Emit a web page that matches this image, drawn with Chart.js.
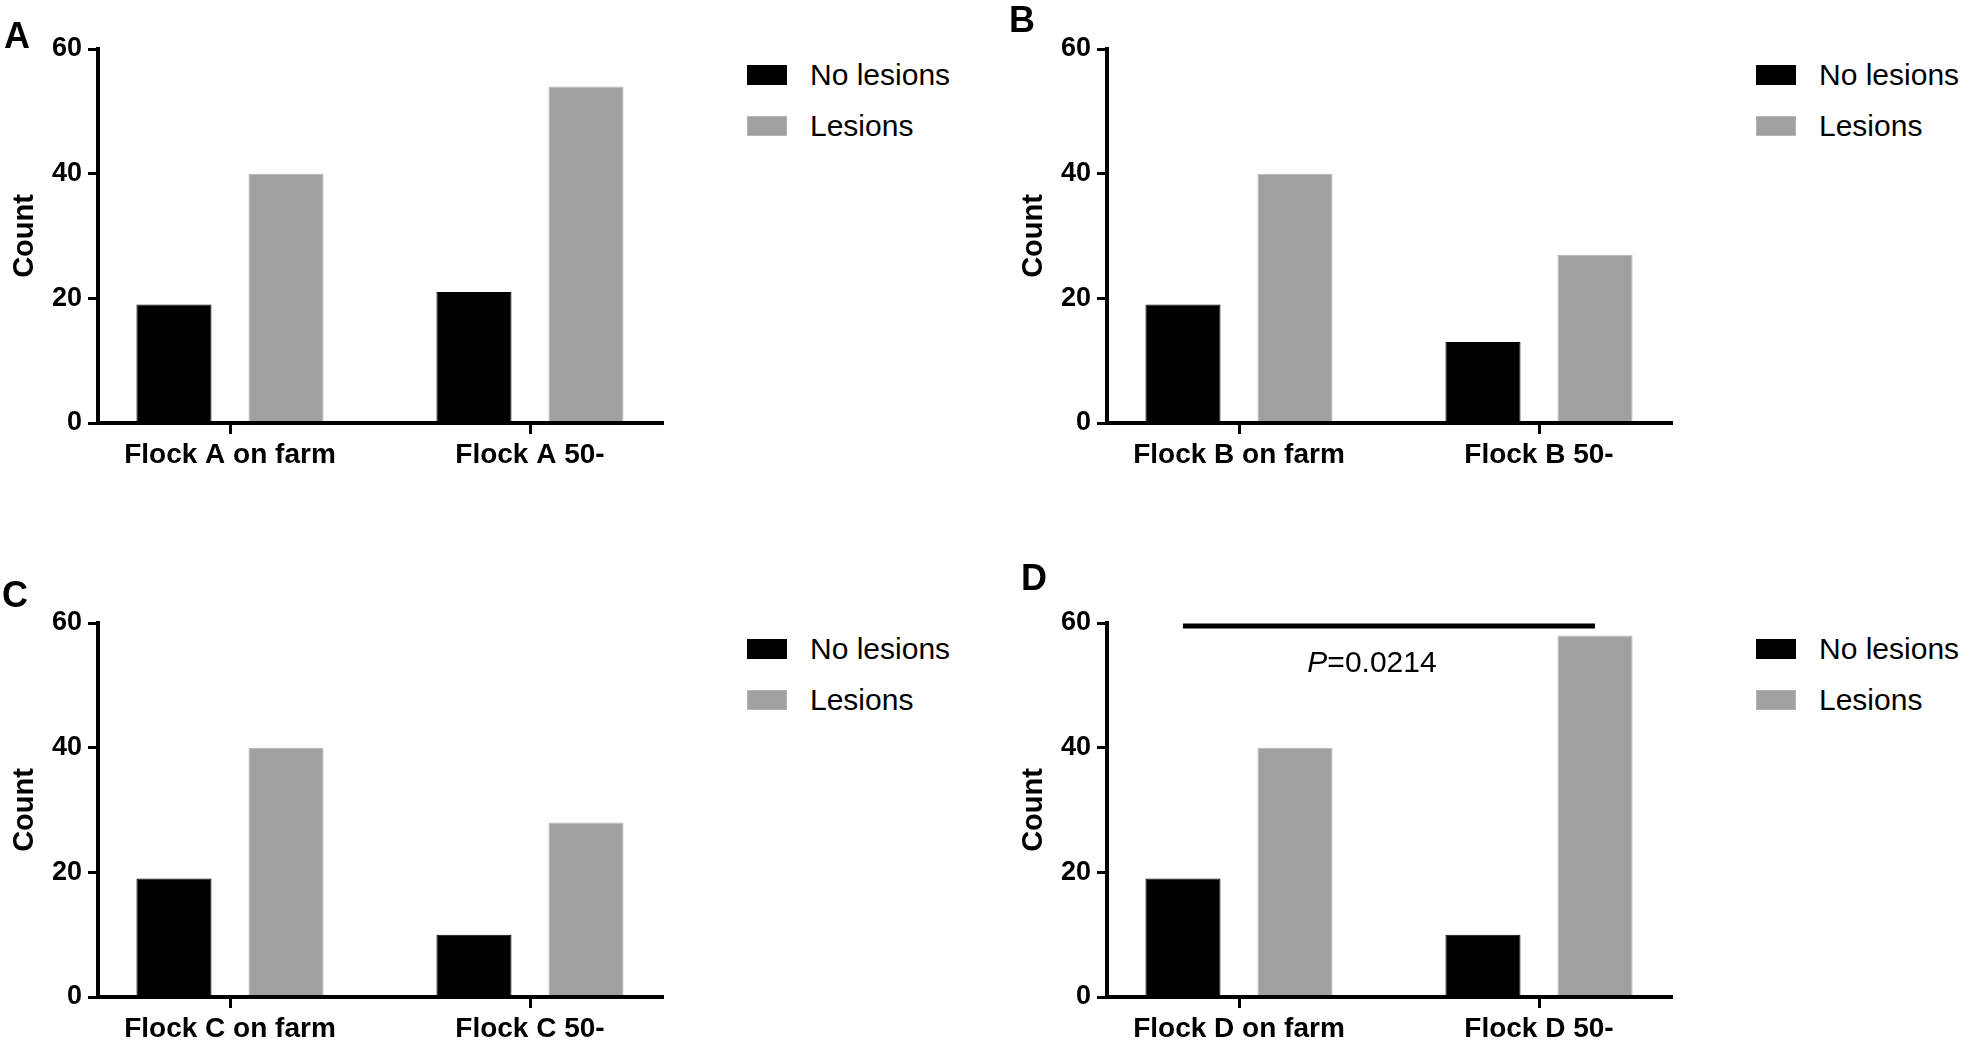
<!DOCTYPE html>
<html>
<head>
<meta charset="utf-8">
<script src="https://cdn.jsdelivr.net/npm/chart.js@4.4.1/dist/chart.umd.min.js"></script>
<style>
  html, body { margin: 0; padding: 0; background: #fff; }
  body { width: 1961px; height: 1044px; position: relative; overflow: hidden; font-family: "Liberation Sans", Arial, Helvetica, sans-serif; color: #000; }
  .panel { position: absolute; width: 952px; height: 470px; }
  .plot { position: absolute; left: 0; top: 0; width: 700px; height: 470px; }
  .letter { position: absolute; font-weight: bold; font-size: 36px; line-height: 36px; }
  .legend { position: absolute; left: 747px; top: 60px; }
  .legend .row { display: flex; align-items: center; height: 30px; margin-bottom: 21px; font-size: 30px; line-height: 30px; white-space: nowrap; }
  .legend .swatch { width: 40px; height: 20px; margin-right: 23px; box-sizing: border-box; border: 1px solid; }
</style>
</head>
<body>
<script>
const FONT = '"Liberation Sans", Arial, Helvetica, sans-serif';

// data
const seriesNames = ["No lesions", "Lesions"];
const seriesColors = ["#000000", "#a0a0a0"];
const seriesBorders = ["#000000", "#b4b4b4"];
const yTicks = [0, 20, 40, 60];

const labelsA = ["Flock A on farm", "Flock A 50-"];
const noLesionsA = [19, 21];
const lesionsA = [40, 54];

const labelsB = ["Flock B on farm", "Flock B 50-"];
const noLesionsB = [19, 13];
const lesionsB = [40, 27];

const labelsC = ["Flock C on farm", "Flock C 50-"];
const noLesionsC = [19, 10];
const lesionsC = [40, 28];

const labelsD = ["Flock D on farm", "Flock D 50-"];
const noLesionsD = [19, 10];
const lesionsD = [40, 58];

// significance bar in panel D
const sigLevelD = 59.5;
const sigItalicD = "P";
const sigTextD = "=0.0214";

// panel placement (layout only)
const panels = [
  { letter: "A", left: 0, top: 0, lx: 4, ly: 18, labels: labelsA, series: [noLesionsA, lesionsA] },
  { letter: "B", left: 1009, top: 0, lx: 0, ly: 2, labels: labelsB, series: [noLesionsB, lesionsB] },
  { letter: "C", left: 0, top: 574, lx: 2, ly: 3, labels: labelsC, series: [noLesionsC, lesionsC] },
  { letter: "D", left: 1009, top: 574, lx: 12, ly: -14, labels: labelsD, series: [noLesionsD, lesionsD], sig: true }
];

const sigPlugin = {
  id: "sigBar",
  afterDatasetsDraw(chart) {
    const { ctx, scales: { y } } = chart;
    const x0 = chart.getDatasetMeta(0).data[0].x;
    const x1 = chart.getDatasetMeta(1).data[1].x;
    const yy = y.getPixelForValue(sigLevelD);
    ctx.save();
    ctx.strokeStyle = "#000";
    ctx.lineWidth = 5;
    ctx.beginPath();
    ctx.moveTo(x0, yy);
    ctx.lineTo(x1, yy);
    ctx.stroke();

    ctx.fillStyle = "#000";
    ctx.textBaseline = "alphabetic";
    ctx.textAlign = "left";
    ctx.font = `italic 30px ${FONT}`;
    const wP = ctx.measureText(sigItalicD).width;
    ctx.font = `30px ${FONT}`;
    const wT = ctx.measureText(sigTextD).width;
    const start = (x0 + x1) / 2 - 17 - (wP + wT) / 2;
    ctx.font = `italic 30px ${FONT}`;
    ctx.fillText(sigItalicD, start, yy + 46);
    ctx.font = `30px ${FONT}`;
    ctx.fillText(sigTextD, start + wP, yy + 46);
    ctx.restore();
  }
};

function buildPanel(panel) {
  const box = document.createElement("div");
  box.className = "panel";
  box.style.left = `${panel.left}px`;
  box.style.top = `${panel.top}px`;

  const letter = document.createElement("div");
  letter.className = "letter";
  letter.style.left = `${panel.lx}px`;
  letter.style.top = `${panel.ly}px`;
  letter.textContent = panel.letter;

  const plot = document.createElement("div");
  plot.className = "plot";
  const canvas = document.createElement("canvas");
  plot.appendChild(canvas);

  const legend = document.createElement("div");
  legend.className = "legend";
  legend.innerHTML = seriesNames
    .map((name, i) => `<div class="row"><span class="swatch" style="background:${seriesColors[i]};border-color:${seriesBorders[i]}"></span>${name}</div>`)
    .join("");

  box.append(plot, letter, legend);
  document.body.appendChild(box);

  new Chart(canvas, {
    type: "bar",
    data: {
      datasets: seriesNames.map((name, s) => ({
        label: name,
        data: panel.series[s].map((value, i) => ({ x: i, y: value })),
        backgroundColor: seriesColors[s],
        borderColor: seriesBorders[s],
        borderWidth: 1,
        categoryPercentage: 0.747,
        barPercentage: 0.67
      }))
    },
    options: {
      responsive: true,
      maintainAspectRatio: false,
      animation: false,
      layout: { padding: { top: 49, right: 38, bottom: 0, left: 0 } },
      plugins: { legend: { display: false }, tooltip: { enabled: false } },
      scales: {
        x: {
          type: "linear",
          min: -0.44,
          max: 1.44,
          offset: false,
          afterBuildTicks: (scale) => { scale.ticks = panel.labels.map((_, i) => ({ value: i })); },
          afterFit: (scale) => { scale.height = 47; },
          border: { color: "#000", width: 4, z: 1 },
          grid: { offset: false, drawOnChartArea: false, drawTicks: true, tickLength: 11, color: "#000", lineWidth: 3 },
          ticks: {
            color: "#000",
            padding: 4,
            maxRotation: 0,
            autoSkip: false,
            font: { family: FONT, size: 28, weight: "bold" },
            callback: (value) => panel.labels[value] ?? ""
          }
        },
        y: {
          min: 0,
          max: 60,
          afterBuildTicks: (scale) => { scale.ticks = yTicks.map((v) => ({ value: v })); },
          afterFit: (scale) => { scale.width = 98; },
          border: { color: "#000", width: 4, z: 1 },
          grid: { drawOnChartArea: false, drawTicks: true, tickLength: 10, color: "#000", lineWidth: 3 },
          ticks: { color: "#000", padding: 6, font: { family: FONT, size: 27, weight: "bold" } },
          title: {
            display: true,
            text: "Count",
            color: "#000",
            font: { family: FONT, size: 29, weight: "bold" },
            padding: { top: 7.6, bottom: 0 }
          }
        }
      }
    },
    plugins: panel.sig ? [sigPlugin] : []
  });
}

panels.forEach(buildPanel);
</script>
</body>
</html>
